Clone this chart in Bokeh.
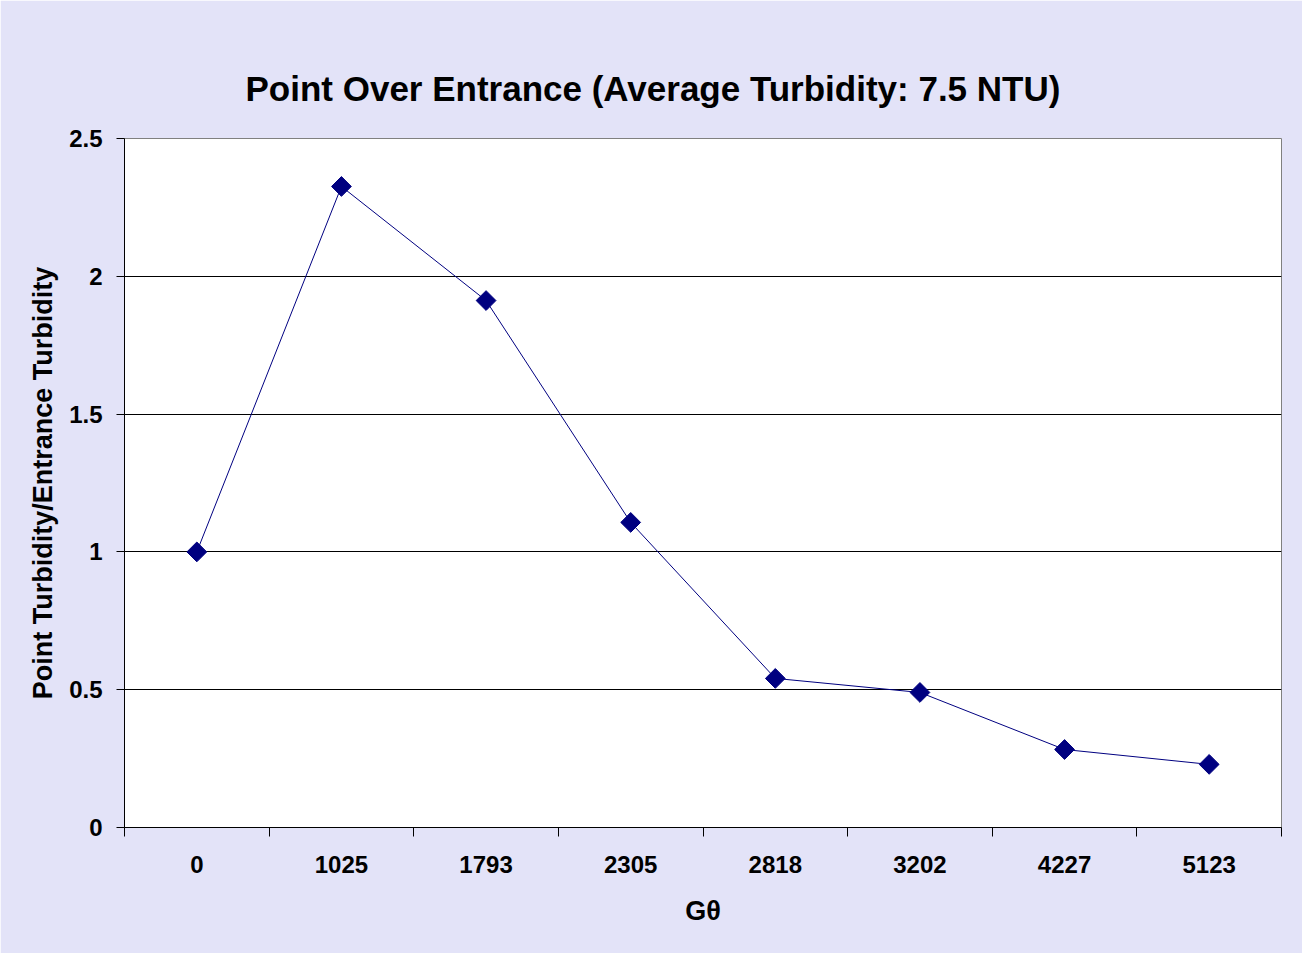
import numpy as np
from bokeh.plotting import figure
from bokeh.models import FixedTicker, Range1d, ColumnDataSource, LinearAxis
from bokeh.embed import file_html
from bokeh.resources import INLINE

# Data
g_theta = ["0", "1025", "1793", "2305", "2818", "3202", "4227", "5123"]
ratio = [1.00, 2.326, 1.912, 1.107, 0.541, 0.490, 0.283, 0.229]
y_ticks = [0, 0.5, 1, 1.5, 2, 2.5]
y_tick_labels = ["0", "0.5", "1", "1.5", "2", "2.5"]
title_text = "Point Over Entrance (Average Turbidity: 7.5 NTU)"

FONT = "Liberation Sans"
BG = "#E3E3F8"
NAVY = "#000080"
W, H = 1302, 953

n = len(g_theta)
xpos = np.arange(n) + 0.5
src = ColumnDataSource(dict(x=xpos, y=ratio, label=g_theta))

p = figure(width=W, height=H, output_backend="svg", toolbar_location=None,
           x_range=Range1d(0, n), y_range=Range1d(0, 2.5), title=title_text,
           min_border_left=124, min_border_right=21, min_border_top=138, min_border_bottom=126)

p.background_fill_color = "white"
p.border_fill_color = BG
p.outline_line_color = "#808080"
p.outline_line_width = 1

# invisible spacer axis between the frame and the title
spacer = LinearAxis(ticker=FixedTicker(ticks=[], minor_ticks=[]), major_tick_out=30, major_tick_in=0,
                    minor_tick_out=0, minor_tick_in=0, major_label_standoff=0,
                    axis_line_color=None, major_tick_line_color=None, minor_tick_line_color=None)
p.add_layout(spacer, "above")

p.title.text_font = FONT
p.title.text_font_size = "35px"
p.title.text_font_style = "bold"
p.title.text_color = "black"
p.title.align = "left"
p.title.offset = 121
p.title.standoff = 61

p.line("x", "y", source=src, line_color=NAVY, line_width=1)
p.scatter("x", "y", source=src, marker="square", angle=np.pi / 4, size=14,
          fill_color=NAVY, line_color=NAVY)

# X axis: labels at category centres, tick marks between categories
xa = p.below[0]
xa.ticker = FixedTicker(ticks=list(xpos), minor_ticks=list(range(n + 1)))
xa.major_label_overrides = {float(x): l for x, l in zip(xpos, g_theta)}
xa.major_tick_out = 0
xa.major_tick_in = 0
xa.minor_tick_out = 9
xa.minor_tick_in = 0
xa.minor_tick_line_color = "black"
xa.axis_line_color = "black"
xa.major_label_text_font = FONT
xa.major_label_text_font_size = "24px"
xa.major_label_text_font_style = "bold"
xa.major_label_text_color = "black"
xa.major_label_standoff = 19
xa.axis_label = "Gθ"
xa.axis_label_text_font = FONT
xa.axis_label_text_font_size = "27px"
xa.axis_label_text_font_style = "bold"
xa.axis_label_text_color = "black"
xa.axis_label_standoff = 20

ya = p.left[0]
ya.ticker = FixedTicker(ticks=y_ticks, minor_ticks=[])
ya.major_label_overrides = {float(t): l for t, l in zip(y_ticks, y_tick_labels)}
ya.major_tick_out = 8
ya.major_tick_in = 0
ya.major_tick_line_color = "black"
ya.axis_line_color = "black"
ya.major_label_text_font = FONT
ya.major_label_text_font_size = "24px"
ya.major_label_text_font_style = "bold"
ya.major_label_text_color = "black"
ya.major_label_standoff = 14
ya.axis_label = "Point Turbidity/Entrance Turbidity"
ya.axis_label_text_font = FONT
ya.axis_label_text_font_size = "27px"
ya.axis_label_text_font_style = "bold"
ya.axis_label_text_color = "black"
ya.axis_label_standoff = 8

p.xgrid.grid_line_color = None
p.ygrid.grid_line_color = "black"
p.ygrid.grid_line_width = 1

open("out.html", "w").write(file_html(p, INLINE))
